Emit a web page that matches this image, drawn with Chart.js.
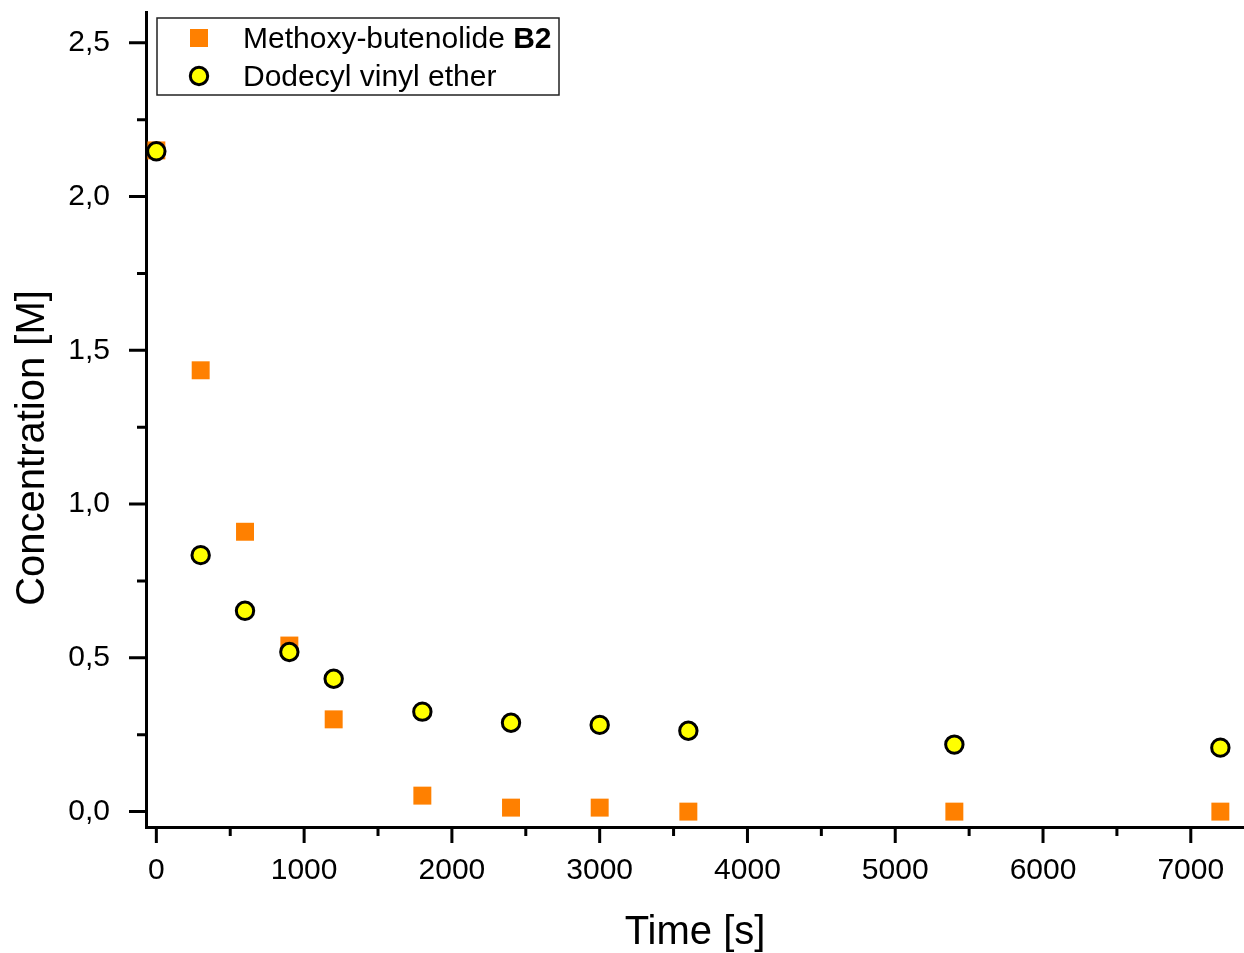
<!DOCTYPE html>
<html>
<head>
<meta charset="utf-8">
<title>Concentration vs Time</title>
<script src="https://cdn.jsdelivr.net/npm/chart.js"></script>
<style>
  html, body { margin: 0; padding: 0; background: #fff; }
  #wrap { width: 1244px; height: 953px; }
</style>
</head>
<body>
<div id="wrap"><canvas id="grafica" width="1244" height="953"></canvas></div>
<script>
// datos
const tiempos = [0, 300, 600, 900, 1200, 1800, 2400, 3000, 3600, 5400, 7200];
const butenolida = [2.15, 1.435, 0.91, 0.54, 0.30, 0.052, 0.013, 0.013, 0.0, 0.0, 0.0];
const viniléter = [2.147, 0.834, 0.653, 0.519, 0.432, 0.325, 0.289, 0.282, 0.263, 0.218, 0.208];
const nombreSerie1 = 'Methoxy-butenolide ';
const nombreSerie1Neg = 'B2';
const nombreSerie2 = 'Dodecyl vinyl ether';
const tituloY = 'Concentration [M]';
const tituloX = 'Time [s]';
const ticksX = [0, 1000, 2000, 3000, 4000, 5000, 6000, 7000];
const ticksXmenores = [500, 1500, 2500, 3500, 4500, 5500, 6500];
const ticksY = [0, 0.5, 1.0, 1.5, 2.0, 2.5];
const ticksYmenores = [0.25, 0.75, 1.25, 1.75, 2.25];

const NARANJA = '#ff8000';
const AMARILLO = '#ffff00';
const FUENTE = 'Arial, "Liberation Sans", sans-serif';

// dibuja las marcas de los ejes (mayores y menores), el titulo Y y la leyenda
const marcasYLeyenda = {
    id: 'marcasYLeyenda',
    afterDraw(chart) {
        const ctx = chart.ctx;
        const sx = chart.scales.x, sy = chart.scales.y;
        const area = chart.chartArea;
        ctx.save();
        ctx.strokeStyle = '#000';
        ctx.lineWidth = 3;
        ctx.beginPath();
        ticksX.forEach(v => { const p = sx.getPixelForValue(v); ctx.moveTo(p, area.bottom); ctx.lineTo(p, area.bottom + 16); });
        ticksXmenores.forEach(v => { const p = sx.getPixelForValue(v); ctx.moveTo(p, area.bottom); ctx.lineTo(p, area.bottom + 9); });
        ticksY.forEach(v => { const p = sy.getPixelForValue(v); ctx.moveTo(area.left, p); ctx.lineTo(area.left - 17, p); });
        ticksYmenores.forEach(v => { const p = sy.getPixelForValue(v); ctx.moveTo(area.left, p); ctx.lineTo(area.left - 9, p); });
        ctx.stroke();

        // titulo del eje Y
        ctx.save();
        ctx.translate(33, 448);
        ctx.rotate(-Math.PI / 2);
        ctx.fillStyle = '#000';
        ctx.font = '40px ' + FUENTE;
        ctx.textAlign = 'center';
        ctx.textBaseline = 'middle';
        ctx.fillText(tituloY, 0, 0);
        ctx.restore();

        // leyenda
        ctx.lineWidth = 1.5;
        ctx.strokeStyle = '#222';
        ctx.strokeRect(157, 18, 402, 77);
        ctx.fillStyle = NARANJA;
        ctx.fillRect(190, 29, 18, 18);
        ctx.beginPath();
        ctx.arc(199, 76, 8.7, 0, Math.PI * 2);
        ctx.fillStyle = AMARILLO;
        ctx.fill();
        ctx.lineWidth = 3;
        ctx.strokeStyle = '#000';
        ctx.stroke();
        ctx.fillStyle = '#000';
        ctx.textBaseline = 'middle';
        ctx.textAlign = 'left';
        ctx.font = '30px ' + FUENTE;
        ctx.fillText(nombreSerie1, 243, 40);
        const w = ctx.measureText(nombreSerie1).width;
        ctx.font = 'bold 30px ' + FUENTE;
        ctx.fillText(nombreSerie1Neg, 243 + w, 40);
        ctx.font = '30px ' + FUENTE;
        ctx.fillText(nombreSerie2, 243, 78);
        ctx.restore();
    }
};

const sinRelleno = s => { s.paddingTop = 0; s.paddingBottom = 0; s.paddingLeft = 0; s.paddingRight = 0; };

const ctx = document.getElementById('grafica').getContext('2d');
const chart = new Chart(ctx, {
    type: 'scatter',
    data: {
        datasets: [{
            label: nombreSerie1 + nombreSerie1Neg,
            data: tiempos.map((t, i) => ({ x: t, y: butenolida[i] })),
            pointStyle: 'rect',
            pointRadius: 12.7,
            backgroundColor: NARANJA,
            borderColor: NARANJA,
            borderWidth: 0,
            order: 1
        }, {
            label: nombreSerie2,
            data: tiempos.map((t, i) => ({ x: t, y: viniléter[i] })),
            pointStyle: 'circle',
            pointRadius: 8.7,
            backgroundColor: AMARILLO,
            borderColor: '#000',
            borderWidth: 3,
            order: 0
        }]
    },
    options: {
        responsive: false,
        animation: false,
        layout: { autoPadding: false, padding: { top: 12, right: 0, left: 0, bottom: 0 } },
        plugins: {
            legend: { display: false },
            tooltip: { enabled: false }
        },
        scales: {
            x: {
                min: -70,
                max: 7360,
                grid: { display: false },
                border: { display: true, color: '#000', width: 3 },
                afterBuildTicks: s => { s.ticks = ticksX.map(v => ({ value: v })); },
                afterFit: s => { s.height = 126; sinRelleno(s); },
                ticks: {
                    color: '#000',
                    padding: 18,
                    maxRotation: 0,
                    font: { family: FUENTE, size: 30 },
                    callback: v => String(v)
                },
                title: {
                    display: true,
                    text: tituloX,
                    color: '#000',
                    font: { family: FUENTE, size: 40 },
                    padding: { top: 0, bottom: -4 }
                }
            },
            y: {
                min: -0.05,
                max: 2.6,
                grid: { display: false },
                border: { display: true, color: '#000', width: 3 },
                afterBuildTicks: s => { s.ticks = ticksY.map(v => ({ value: v })); },
                afterFit: s => { s.width = 146; sinRelleno(s); },
                ticks: {
                    color: '#000',
                    padding: 28,
                    font: { family: FUENTE, size: 30 },
                    callback: v => v.toFixed(1).replace('.', ',')
                }
            }
        }
    },
    plugins: [marcasYLeyenda]
});
</script>
</body>
</html>
